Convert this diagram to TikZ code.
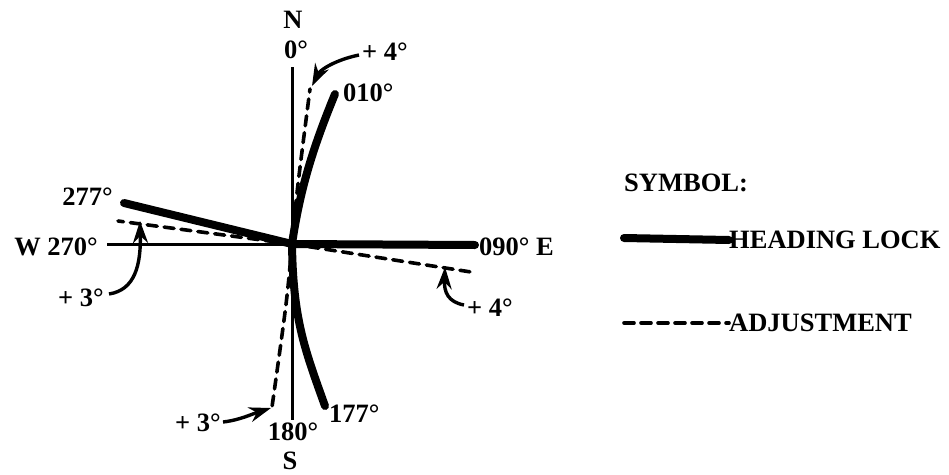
\documentclass[tikz,border=0pt]{standalone}
\usepackage{fontspec}
\setmainfont{Liberation Serif}
\usetikzlibrary{arrows.meta}
\begin{document}
\begin{tikzpicture}[x=1pt,y=-1pt,
  lbl/.style={font=\fontsize{26.5}{26.5}\selectfont\bfseries, inner sep=0pt},
  thinline/.style={line width=3pt},
  heavy/.style={line width=8pt, line cap=round},
  adj/.style={line width=3.6pt, dash pattern=on 10pt off 7pt, line cap=round},
  curvearrow/.style={line width=3.4pt, -{Stealth[length=22pt,width=15pt]}}]
\useasboundingbox (0,0) rectangle (949,474);
\coordinate (c) at (292,244);
% axes
\coordinate (ntop) at (292,67);
\coordinate (sbot) at (292,420);
\coordinate (wend) at (107,244);
\coordinate (eend) at (475,245);
\draw[thinline] (ntop) -- (sbot);
\draw[thinline] (wend) -- (c);
\draw[heavy] (c) -- (eend);
% heading lock lines
\coordinate (h010) at (335,94);
\coordinate (h177) at (325,406);
\coordinate (h277) at (124,203);
\draw[heavy] (c) .. controls (300,190) and (312,150) .. (h010);
\draw[heavy] (c) .. controls (293,320) and (305,350) .. (h177);
\draw[heavy] (c) -- (h277);
% adjustment lines
\coordinate (a004) at (310,89);
\coordinate (a180) at (272,407);
\coordinate (a273) at (118,221);
\coordinate (a094) at (471,272);
\draw[adj] (c) .. controls (297,190) .. (a004);
\draw[adj] (c) .. controls (287,300) .. (a180);
\draw[adj] (c) -- (a273);
\draw[adj] (c) -- (a094);
% labels
\node[lbl] (N) at (293,20) {N};
\node[lbl] (n0) at (296,50) {0°};
\node[lbl,anchor=west] (n010) at (343,93) {010°};
\node[lbl,anchor=west] (p4n) at (362,52) {+ 4°};
\node[lbl,anchor=east] (w277) at (113,197) {277°};
\node[lbl,anchor=east] (w270) at (98,247) {W 270°};
\node[lbl,anchor=east] (p3w) at (104,298) {+ 3°};
\node[lbl,anchor=west] (e090) at (479,247) {090° E};
\node[lbl,anchor=west] (p4e) at (467,308) {+ 4°};
\node[lbl,anchor=east] (p3s) at (221,423) {+ 3°};
\node[lbl,anchor=west] (s177) at (329,414) {177°};
\node[lbl] (s180) at (293,432) {180°};
\node[lbl] (S) at (290,461) {S};
% adjustment arrows
\draw[curvearrow] (p4n.west) ++(-3,3) coordinate (p4nstart) .. controls (335,60) and (320,70) .. (312,86);
\draw[curvearrow] (p3w.east) ++(5,-4) coordinate (p3wstart) .. controls (135,290) and (141,265) .. (140,221);
\draw[curvearrow] (p4e.west) ++(-3,-3) coordinate (p4estart) .. controls (448,302) and (444,292) .. (445,267);
\draw[curvearrow] (p3s.east) ++(2,-1) coordinate (p3sstart) .. controls (240,420) and (252,414) .. (271,408);
% legend
\node[lbl,anchor=west] (sym) at (624,183) {SYMBOL:};
\node[lbl,anchor=west] (hl) at (729,240) {HEADING LOCK};
\node[lbl,anchor=west] (adjl) at (729,323) {ADJUSTMENT};
\coordinate (hls) at (624,238);
\coordinate (adjs) at (624,323);
\draw[heavy] (hls) -- (hl.west);
\draw[adj] (adjs) -- (hl.west |- adjl.west);
\end{tikzpicture}
\end{document}
